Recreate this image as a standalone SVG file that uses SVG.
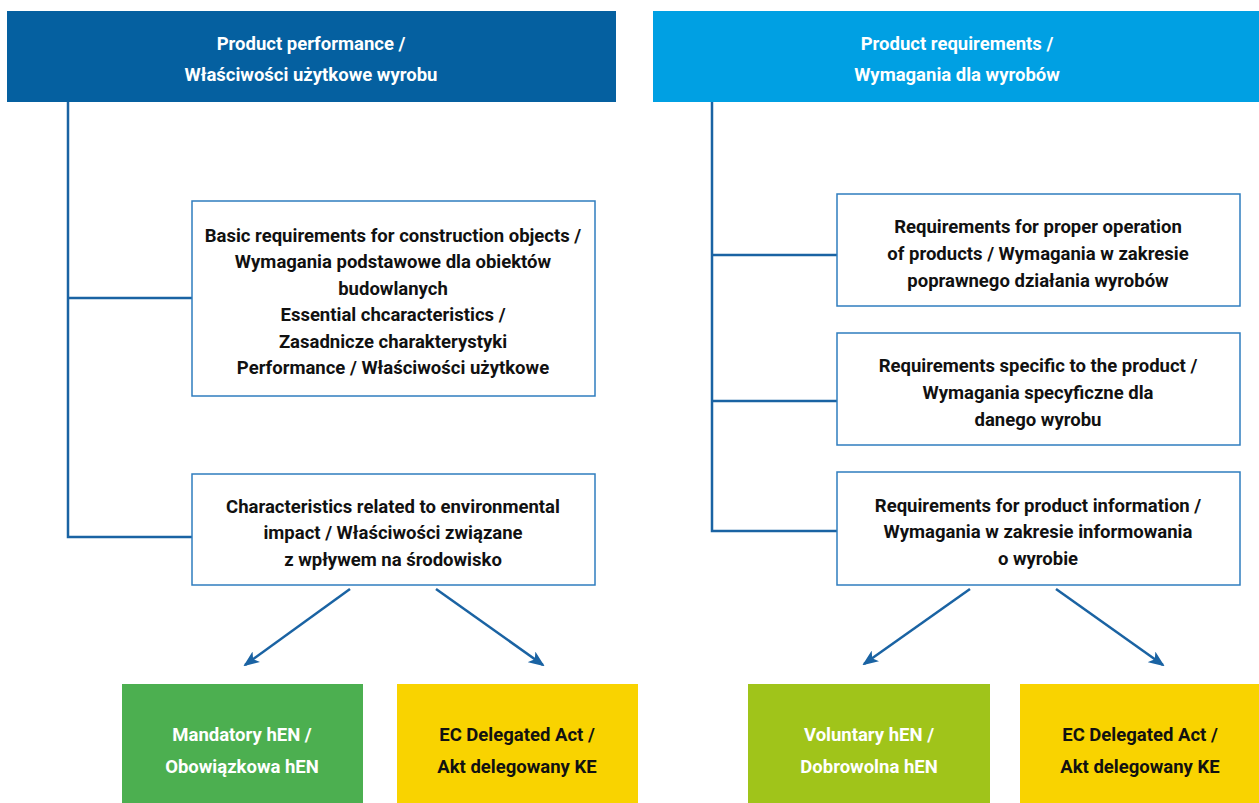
<svg xmlns="http://www.w3.org/2000/svg" width="1259" height="803" viewBox="0 0 1259 803">
<style>
.t{font-family:Roboto,"Liberation Sans",sans-serif;font-size:18.5px;font-weight:700;text-anchor:middle}
.w{fill:#ffffff}
.k{fill:#111111}
.box{fill:#ffffff;stroke:#2f7dbf;stroke-width:1.5}
.ln{fill:none;stroke:#1a63a3;stroke-width:2.5}
</style>
<defs>
<marker id="ah" markerWidth="16" markerHeight="13" refX="14" refY="6.5" orient="auto" markerUnits="userSpaceOnUse" viewBox="0 0 16 13">
<path d="M0,0 L16,6.5 L0,13 L4,6.5 Z" fill="#1a63a3"/>
</marker>
</defs>
<rect width="1259" height="803" fill="#ffffff"/>
<g id="connectors">
<path class="ln" d="M68,102 V537 H192 M68,298 H192"/>
<path class="ln" d="M712,102 V531 H837 M712,255 H837 M712,401 H837"/>
<line class="ln" x1="350" y1="589" x2="245" y2="665" marker-end="url(#ah)"/>
<line class="ln" x1="436" y1="589" x2="543" y2="665" marker-end="url(#ah)"/>
<line class="ln" x1="970" y1="589" x2="864" y2="664" marker-end="url(#ah)"/>
<line class="ln" x1="1056" y1="589" x2="1163" y2="665" marker-end="url(#ah)"/>
</g>
<g id="header-left">
<rect x="7" y="11" width="609" height="91" fill="#0560a0"/>
<text class="t w" x="311" y="50">Product performance /</text>
<text class="t w" x="311" y="81">Właściwości użytkowe wyrobu</text>
</g>
<g id="header-right">
<rect x="653" y="11" width="606" height="91" fill="#00a0e3"/>
<text class="t w" x="957" y="50">Product requirements /</text>
<text class="t w" x="957" y="81">Wymagania dla wyrobów</text>
</g>
<g id="basic-req">
<rect class="box" x="192" y="201" width="403" height="195"/>
<text class="t k" x="393" y="242">Basic requirements for construction objects /</text>
<text class="t k" x="393" y="268">Wymagania podstawowe dla obiektów</text>
<text class="t k" x="393" y="295">budowlanych</text>
<text class="t k" x="393" y="321">Essential chcaracteristics /</text>
<text class="t k" x="393" y="348">Zasadnicze charakterystyki</text>
<text class="t k" x="393" y="374">Performance / Właściwości użytkowe</text>
</g>
<g id="env-impact">
<rect class="box" x="192" y="474" width="403" height="111"/>
<text class="t k" x="393" y="513">Characteristics related to environmental</text>
<text class="t k" x="393" y="539">impact / Właściwości związane</text>
<text class="t k" x="393" y="566">z wpływem na środowisko</text>
</g>
<g id="mandatory">
<rect x="122" y="684" width="241" height="119" fill="#4caf50"/>
<text class="t w" x="242" y="741">Mandatory hEN /</text>
<text class="t w" x="242" y="773">Obowiązkowa hEN</text>
</g>
<g id="delegated-left">
<rect x="397" y="684" width="241" height="119" fill="#f9d300"/>
<text class="t k" x="517" y="741">EC Delegated Act /</text>
<text class="t k" x="517" y="773">Akt delegowany KE</text>
</g>
<g id="proper-operation">
<rect class="box" x="837" y="194" width="403" height="112"/>
<text class="t k" x="1038" y="233">Requirements for proper operation</text>
<text class="t k" x="1038" y="260">of products / Wymagania w zakresie</text>
<text class="t k" x="1038" y="287">poprawnego działania wyrobów</text>
</g>
<g id="specific">
<rect class="box" x="837" y="333" width="403" height="112"/>
<text class="t k" x="1038" y="372">Requirements specific to the product /</text>
<text class="t k" x="1038" y="399">Wymagania specyficzne dla</text>
<text class="t k" x="1038" y="426">danego wyrobu</text>
</g>
<g id="information">
<rect class="box" x="837" y="472" width="403" height="113"/>
<text class="t k" x="1038" y="512">Requirements for product information /</text>
<text class="t k" x="1038" y="538">Wymagania w zakresie informowania</text>
<text class="t k" x="1038" y="565">o wyrobie</text>
</g>
<g id="voluntary">
<rect x="748" y="684" width="242" height="119" fill="#a0c41a"/>
<text class="t w" x="869" y="741">Voluntary hEN /</text>
<text class="t w" x="869" y="773">Dobrowolna hEN</text>
</g>
<g id="delegated-right">
<rect x="1020" y="684" width="239" height="119" fill="#f9d300"/>
<text class="t k" x="1140" y="741">EC Delegated Act /</text>
<text class="t k" x="1140" y="773">Akt delegowany KE</text>
</g>
</svg>
